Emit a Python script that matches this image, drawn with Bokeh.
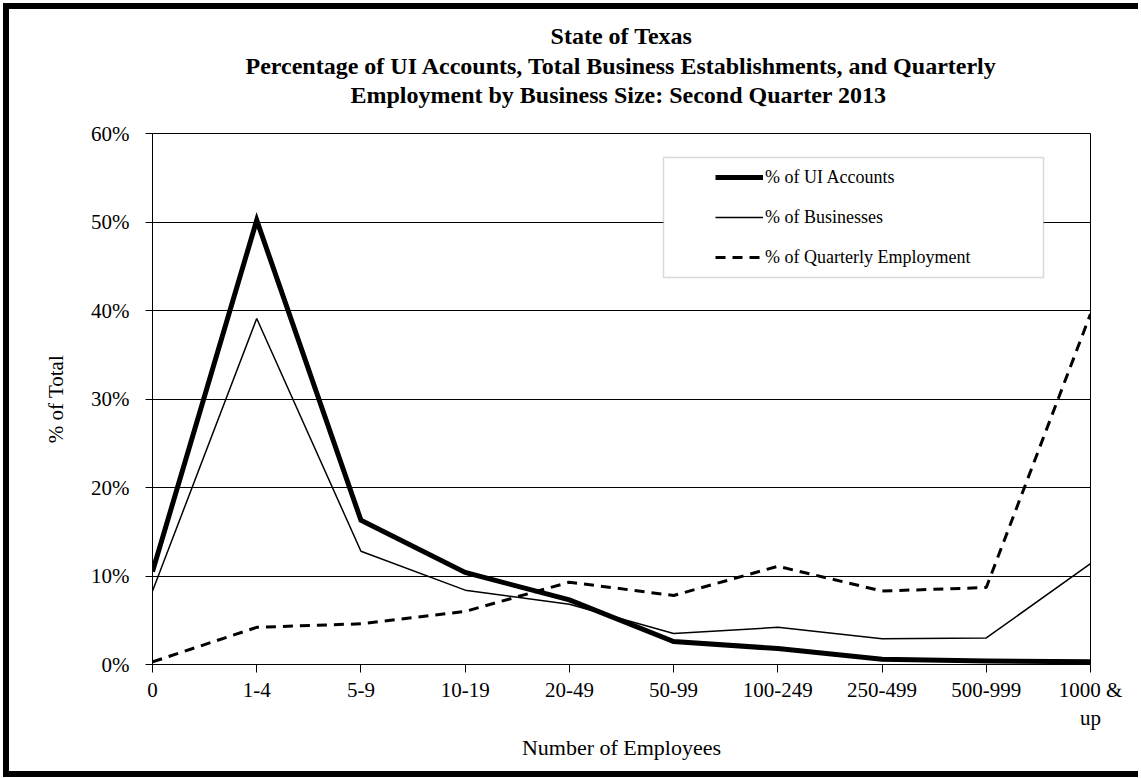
from bokeh.plotting import figure
from bokeh.models import (Range1d, FixedTicker, PrintfTickFormatter, Title, LinearAxis,
                          Legend, LegendItem, BoxAnnotation)
from bokeh.embed import file_html
from bokeh.resources import INLINE

# ---- data ----
categories = ["0", "1-4", "5-9", "10-19", "20-49", "50-99", "100-249",
              "250-499", "500-999", "1000 &\nup"]
ui_accounts = [10.5, 50.2, 16.3, 10.4, 7.3, 2.6, 1.8, 0.6, 0.4, 0.3]
businesses = [8.3, 39.1, 12.8, 8.4, 6.8, 3.5, 4.2, 2.9, 3.0, 11.4]
employment = [0.3, 4.2, 4.6, 6.0, 9.3, 7.8, 11.1, 8.3, 8.7, 39.6]
y_ticks = [0, 10, 20, 30, 40, 50, 60]
title_lines = ["State of Texas",
               "Percentage of UI Accounts, Total Business Establishments, and Quarterly",
               "Employment by Business Size:  Second Quarter 2013"]
series_names = ["% of UI Accounts", "% of Businesses", "% of Quarterly Employment"]

FONT = "Liberation Serif"
TITLE_SIZE = "24px"
xs = list(range(len(categories)))

p = figure(width=1135, height=774, output_backend="svg", toolbar_location=None,
           x_range=Range1d(0, len(categories) - 1), y_range=Range1d(y_ticks[0], y_ticks[-1]),
           min_border_left=143, min_border_right=54, min_border_top=124,
           min_border_bottom=119)
p.styles = {"border-left": "6px solid black", "border-top": "6px solid black",
            "border-bottom": "6px solid black", "margin-left": "3px", "margin-top": "3px"}
p.background_fill_color = "white"
p.border_fill_color = "white"
p.outline_line_color = "black"
p.outline_line_width = 1

xax = p.below[0]
yax = p.left[0]

# grid
p.xgrid.visible = False
p.ygrid.ticker = FixedTicker(ticks=y_ticks)
p.ygrid.grid_line_color = "black"
p.ygrid.grid_line_width = 1

# axes
for ax in (xax, yax):
    ax.axis_line_color = "black"
    ax.major_tick_line_color = "black"
    ax.minor_tick_line_color = None
    ax.major_tick_in = 0
    ax.major_label_text_font = FONT
    ax.major_label_text_font_size = "21px"
    ax.major_label_text_color = "black"
    ax.axis_label_text_font = FONT
    ax.axis_label_text_font_style = "normal"
    ax.axis_label_text_color = "black"

xax.ticker = FixedTicker(ticks=xs)
xax.major_label_overrides = {i: c for i, c in zip(xs, categories)}
xax.major_tick_out = 8
xax.major_label_standoff = 5
xax.axis_label = "Number of Employees"
xax.axis_label_text_font_size = "22px"
xax.axis_label_standoff = 2

yax.ticker = FixedTicker(ticks=y_ticks)
yax.formatter = PrintfTickFormatter(format="%d%%")
yax.major_tick_out = 7
yax.major_label_standoff = 16
yax.axis_label = "% of Total"
yax.axis_label_text_font_size = "21px"
yax.axis_label_standoff = 20

# ---- title: three centred lines ----
# third line: label of a bare axis above the plot (gives a one-sided gap to the plot)
t3 = LinearAxis(ticker=FixedTicker(ticks=[]), axis_label=title_lines[2],
                axis_line_color=None, major_tick_line_color=None,
                minor_tick_line_color=None, major_tick_out=0, major_tick_in=0,
                minor_tick_out=0, minor_tick_in=0, major_label_standoff=0,
                major_label_text_font_size="0px",
                axis_label_text_font=FONT, axis_label_text_font_style="bold",
                axis_label_text_font_size=TITLE_SIZE, axis_label_text_color="black",
                axis_label_standoff=26)
p.add_layout(t3, "above")

def style_title(t, standoff):
    t.align = "center"
    t.text_font = FONT
    t.text_font_style = "bold"
    t.text_font_size = TITLE_SIZE
    t.text_color = "black"
    t.standoff = standoff

t2 = Title(text=title_lines[1]); style_title(t2, 0)
p.add_layout(t2, "above")
p.title.text = title_lines[0]
style_title(p.title, 3)

# series
r_ui = p.line(xs, ui_accounts, line_color="black", line_width=5, line_join="miter")
r_bus = p.line(xs, businesses, line_color="black", line_width=1.5)
r_emp = p.line(xs, employment, line_color="black", line_width=3, line_dash="10 7")

# legend box
box = BoxAnnotation(left=511, right=891, top=507, bottom=387,
                    left_units="screen", right_units="screen",
                    top_units="screen", bottom_units="screen",
                    fill_color="white", fill_alpha=1.0,
                    line_color="#808080", line_width=1.5)
p.add_layout(box)

legend = Legend(items=[LegendItem(label=series_names[0], renderers=[r_ui]),
                       LegendItem(label=series_names[1], renderers=[r_bus]),
                       LegendItem(label=series_names[2], renderers=[r_emp])],
                location=(563, 387), padding=0, margin=0, spacing=0,
                border_line_alpha=0, background_fill_alpha=0,
                glyph_width=48, glyph_height=20, label_height=40,
                label_standoff=2, label_text_font=FONT,
                label_text_font_size="18px", label_text_color="black")
p.add_layout(legend)

open("out.html", "w").write(file_html(p, INLINE))
